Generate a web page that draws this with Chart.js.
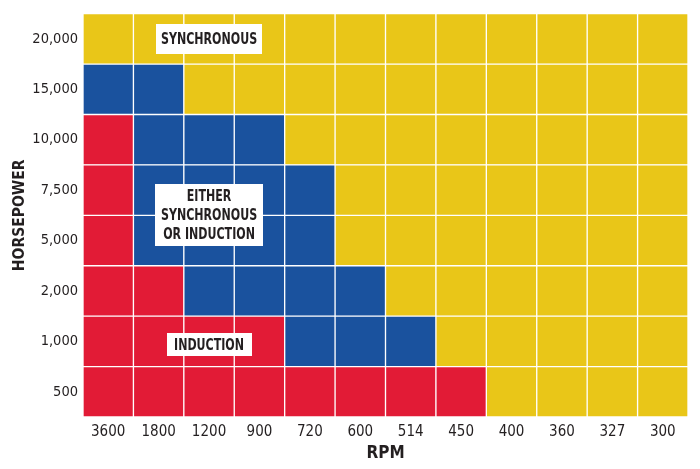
<!DOCTYPE html>
<html>
<head>
<meta charset="utf-8">
<script src="https://cdn.jsdelivr.net/npm/chart.js@4.4.1/dist/chart.umd.min.js"></script>
<style>
html,body{margin:0;padding:0;background:#fff;}
#wrap{width:700px;height:469px;position:relative;}
</style>
</head>
<body>
<div id="wrap"><canvas id="c" width="700" height="469"></canvas></div>
<script>
// Categories
const rpmLabels = ['3600','1800','1200','900','720','600','514','450','400','360','327','300'];
const hpLabels = ['500','1,000','2,000','5,000','7,500','10,000','15,000','20,000'];
// Cell types per horsepower row (I = induction, E = either, S = synchronous)
const row500   = ['I','I','I','I','I','I','I','I','S','S','S','S'];
const row1000  = ['I','I','I','I','E','E','E','S','S','S','S','S'];
const row2000  = ['I','I','E','E','E','E','S','S','S','S','S','S'];
const row5000  = ['I','E','E','E','E','S','S','S','S','S','S','S'];
const row7500  = ['I','E','E','E','E','S','S','S','S','S','S','S'];
const row10000 = ['I','E','E','E','S','S','S','S','S','S','S','S'];
const row15000 = ['E','E','S','S','S','S','S','S','S','S','S','S'];
const row20000 = ['S','S','S','S','S','S','S','S','S','S','S','S'];
const rows = [row500,row1000,row2000,row5000,row7500,row10000,row15000,row20000];
// Region labels
const regionTexts = [['SYNCHRONOUS'],['EITHER','SYNCHRONOUS','OR INDUCTION'],['INDUCTION']];

const colors = {I:'#E21B36', E:'#1A529E', S:'#E9C618'};
const FONT = "'Liberation Sans Narrow','DejaVu Sans Condensed','Arial Narrow',sans-serif";

const datasets = rows.map((r,i)=>({
  label: hpLabels[i],
  data: r.map(()=>1),
  backgroundColor: r.map(t=>colors[t]),
  borderColor: '#ffffff',
  borderWidth: 1,
  borderSkipped: false,
  barPercentage: 1,
  categoryPercentage: 1
}));

// label placement: [x category index, y value, box width, box height]
const labelPlacement = [
  [2, 7.5, 106, 30],
  [2, 4.0, 108, 62],
  [2, 1.43, 85, 23]
];

const labelPlugin = {
  id: 'regionLabels',
  afterDatasetsDraw(chart){
    const ctx = chart.ctx;
    const xs = chart.scales.x, ys = chart.scales.y;
    regionTexts.forEach((lines, k)=>{
      const [xi, yv, w, h] = labelPlacement[k];
      const cx = xs.getPixelForValue(xi);
      const cy = ys.getPixelForValue(yv);
      ctx.save();
      ctx.fillStyle = '#ffffff';
      ctx.fillRect(Math.round(cx - w/2), Math.round(cy - h/2), w, h);
      ctx.fillStyle = '#231F20';
      ctx.font = "bold 15px " + FONT;
      ctx.textAlign = 'center';
      ctx.textBaseline = 'middle';
      const lh = 19;
      const sx = 0.82;
      ctx.translate(cx, 0);
      ctx.scale(sx, 1);
      lines.forEach((t, j)=>{
        ctx.fillText(t, 0, cy + (j - (lines.length-1)/2)*lh + 1);
      });
      ctx.restore();
    });
  }
};

new Chart(document.getElementById('c'), {
  type: 'bar',
  data: { labels: rpmLabels, datasets },
  options: {
    responsive: false,
    animation: false,
    events: [],
    layout: { padding: { left: 0, top: 13, right: 12, bottom: 0 } },
    plugins: { legend: { display: false }, tooltip: { enabled: false } },
    scales: {
      x: {
        stacked: true,
        grid: { display: false, drawTicks: false },
        border: { display: false },
        ticks: { color: '#231F20', font: { family: FONT, size: 15 }, padding: 6, maxRotation: 0 },
        title: { display: true, text: 'RPM', color: '#231F20', font: { family: FONT, size: 17, weight: 'bold' }, padding: { top: 2, bottom: 5 } },
        afterFit(s){ s.height = 52; }
      },
      y: {
        stacked: true,
        min: 0, max: 8,
        grid: { display: false, drawTicks: false },
        border: { display: false },
        afterBuildTicks(s){ s.ticks = hpLabels.map((_,i)=>({ value: i + 0.5 })); },
        ticks: {
          color: '#231F20', font: { family: FONT, size: 14.5 }, padding: 5,
          callback: (v)=> hpLabels[Math.floor(v)]
        },
        title: { display: true, text: 'HORSEPOWER', color: '#231F20', font: { family: FONT, size: 15.5, weight: 'bold' }, padding: { top: 11, bottom: 0 } },
        afterFit(s){ s.width = 83; }
      }
    }
  },
  plugins: [labelPlugin]
});
</script>
</body>
</html>
